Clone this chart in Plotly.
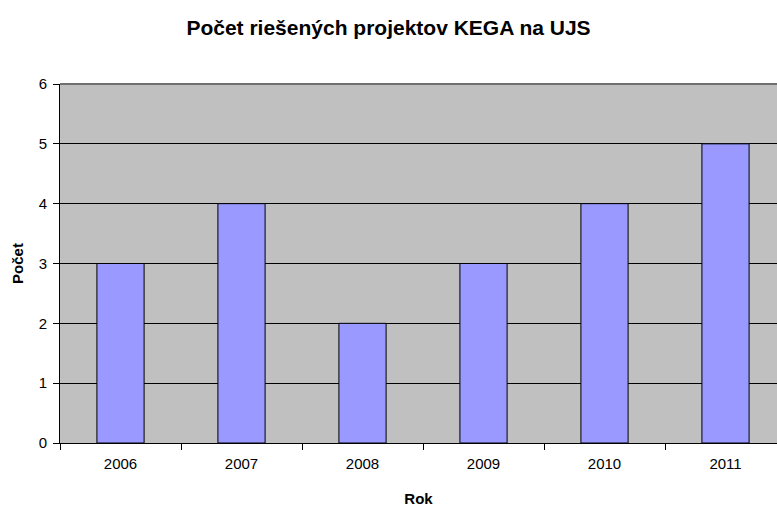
import plotly.graph_objects as go

years = ["2006", "2007", "2008", "2009", "2010", "2011"]
counts = [3, 4, 2, 3, 4, 5]
y_ticks = [0, 1, 2, 3, 4, 5, 6]

title_text = "Počet riešených projektov KEGA na UJS"
x_title = "Rok"
y_title = "Počet"

FONT = "Liberation Sans, Arial, sans-serif"

fig = go.Figure()
fig.add_trace(go.Bar(
    x=years, y=counts,
    marker=dict(color="#9999FF", line=dict(color="#000000", width=1)),
    width=0.39,
))

fig.update_layout(
    width=777, height=507,
    margin=dict(l=60, r=0, t=84, b=64),
    paper_bgcolor="white",
    plot_bgcolor="#C0C0C0",
    showlegend=False,
    font=dict(family=FONT, size=15, color="black"),
    title=dict(text="<b>" + title_text + "</b>", x=0.5, xanchor="center",
               y=1 - 28 / 507, yanchor="middle",
               font=dict(family=FONT, size=21, color="black")),
)
fig.update_xaxes(
    type="category",
    range=[-0.5, 5.5 - 9 / 121],
    tickson="boundaries", ticks="outside", ticklen=6, tickcolor="black",
    showline=True, linecolor="black", linewidth=1,
    showgrid=False,
    ticklabelstandoff=7,
    title=dict(text="<b>" + x_title + "</b>", font=dict(family=FONT, size=15), standoff=22),
    tickfont=dict(family=FONT, size=15),
)
fig.update_yaxes(
    range=[0, 6], tickvals=y_ticks,
    ticks="outside", ticklen=6, tickcolor="black",
    showline=True, linecolor="black", linewidth=1,
    showgrid=True, gridcolor="black", gridwidth=1,
    zeroline=False,
    ticklabelstandoff=3,
    title=dict(text="<b>" + y_title + "</b>", font=dict(family=FONT, size=15), standoff=11),
    tickfont=dict(family=FONT, size=15),
)
fig.add_shape(type="line", xref="paper", yref="paper", x0=0, x1=1, y0=1, y1=1,
              line=dict(color="#707070", width=2), layer="above")

fig.write_html("out.html", config={"displayModeBar": False},
               post_script="document.body.style.margin='0';")
